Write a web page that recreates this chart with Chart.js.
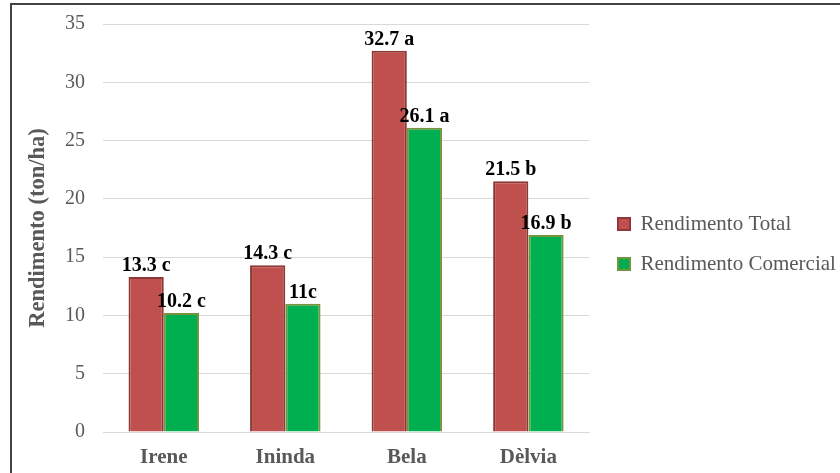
<!DOCTYPE html>
<html><head><meta charset="utf-8">
<script src="https://cdn.jsdelivr.net/npm/chart.js@4/dist/chart.umd.min.js"></script>
<style>
html,body{margin:0;padding:0;background:#fff;}
#wrap{position:absolute;left:0;top:0;width:840px;height:473px;}
#frame{position:absolute;left:10px;top:3px;width:840px;height:480px;border-left:2px solid #444;border-top:2px solid #444;pointer-events:none;}
</style></head>
<body>
<div id="wrap"><canvas id="c" width="840" height="473"></canvas><div id="frame"></div></div>
<script>
const categories = ["Irene", "Ininda", "Bela", "Dèlvia"];
const totalValues = [13.3, 14.3, 32.7, 21.5];
const comercialValues = [10.2, 11, 26.1, 16.9];
const totalLabels = ["13.3 c", "14.3 c", "32.7 a", "21.5 b"];
const comercialLabels = ["10.2 c", "11c", "26.1 a", "16.9 b"];
const yTicks = [0, 5, 10, 15, 20, 25, 30, 35];

const barLabels = {
  id: 'barLabels',
  afterDatasetsDraw(chart) {
    const ctx = chart.ctx;
    const sets = [totalLabels, comercialLabels];
    ctx.save();
    ctx.font = 'bold 20px "Liberation Serif"';
    ctx.fillStyle = '#000';
    ctx.textAlign = 'center';
    ctx.textBaseline = 'alphabetic';
    chart.data.datasets.forEach((ds, i) => {
      chart.getDatasetMeta(i).data.forEach((bar, j) => {
        ctx.fillText(sets[i][j], bar.x, bar.y - 6);
      });
    });
    ctx.restore();
  }
};

const legendShift = {
  id: 'legendShift',
  afterLayout(chart) {
    const lg = chart.legend;
    if (lg) {
      const dx = 618 - 19 - lg.left;
      lg.left += dx; lg.right += dx;
      const mid = (lg.top + lg.bottom) / 2;
      const dy = 244 - mid;
      lg.top += dy; lg.bottom += dy;
    }
  }
};

new Chart(document.getElementById('c'), {
  type: 'bar',
  data: {
    labels: categories,
    datasets: [
      { label: 'Rendimento Total', data: totalValues, backgroundColor: '#C0504D', borderColor: '#8C3836', borderWidth: 2, borderSkipped: 'bottom' },
      { label: 'Rendimento Comercial', data: comercialValues, backgroundColor: '#00B050', borderColor: '#77933C', borderWidth: 2, borderSkipped: 'bottom' }
    ]
  },
  options: {
    responsive: false,
    animation: false,
    layout: { padding: { left: 22, top: 24, right: 4, bottom: 0 } },
    datasets: { bar: { categoryPercentage: 0.58, barPercentage: 1.0 } },
    scales: {
      x: {
        afterFit(scale) { scale.height = 41; scale.paddingLeft = 0; scale.paddingRight = 0; },
        grid: { display: false, drawTicks: false },
        border: { display: true, color: '#D9D9D9', width: 1 },
        ticks: { color: '#595959', font: { family: 'Liberation Serif', size: 21, weight: 'bold' }, padding: 13 }
      },
      y: {
        min: 0, max: 35,
        afterFit(scale) { scale.width = 81; scale.paddingTop = 0; scale.paddingBottom = 0; },
        afterBuildTicks(axis) { axis.ticks = yTicks.map(v => ({ value: v })); },
        grid: { color: '#D9D9D9', lineWidth: 1, drawTicks: false },
        border: { display: false },
        ticks: { color: '#595959', font: { family: 'Liberation Serif', size: 20 }, padding: 18 },
        title: { display: true, text: 'Rendimento (ton/ha)', color: '#595959', font: { family: 'Liberation Serif', size: 22.5, weight: 'bold' }, padding: { top: 3, bottom: 14 } }
      }
    },
    plugins: {
      legend: {
        position: 'right',
        maxWidth: 300,
        labels: { color: '#595959', font: { family: 'Liberation Serif', size: 21 }, boxWidth: 12, boxHeight: 12, padding: 19 }
      },
      tooltip: { enabled: false }
    }
  },
  plugins: [barLabels, legendShift]
});
</script>
</body></html>
